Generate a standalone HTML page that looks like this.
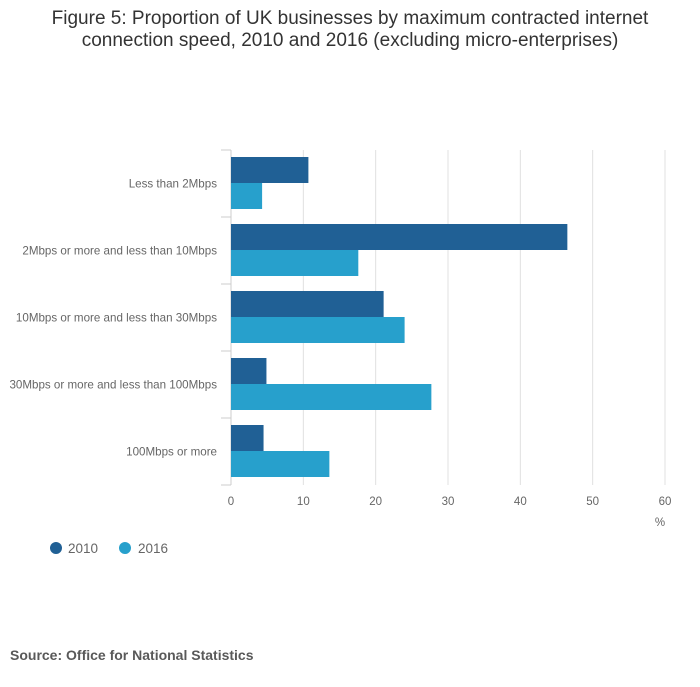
<!DOCTYPE html>
<html><head><meta charset="utf-8"><style>
body{margin:0;background:#fff;font-family:"Liberation Sans",sans-serif;}
svg text{font-family:"Liberation Sans",sans-serif;}
</style></head><body>
<svg width="700" height="682" id="c">
<text x="350" y="24" text-anchor="middle" font-size="19" fill="#333">Figure 5: Proportion of UK businesses by maximum contracted internet</text>
<text x="350" y="46" text-anchor="middle" font-size="19" fill="#333">connection speed, 2010 and 2016 (excluding micro-enterprises)</text>
<text x="10" y="660" font-size="14" font-weight="bold" fill="#595959">Source: Office for National Statistics</text>
<g>
<circle cx="56" cy="548" r="6" fill="#206095"/>
<text x="68" y="553" font-size="13.5" fill="#666">2010</text>
<circle cx="125" cy="548" r="6" fill="#27a0cc"/>
<text x="138" y="553" font-size="13.5" fill="#666">2016</text>
</g>
<text x="660" y="526" text-anchor="middle" font-size="11.5" fill="#666">%</text>
<g id="plot"></g>
</svg>
<script>
const categories=["Less than 2Mbps","2Mbps or more and less than 10Mbps","10Mbps or more and less than 30Mbps","30Mbps or more and less than 100Mbps","100Mbps or more"];
const values2010=[10.7,46.5,21.1,4.9,4.5];
const values2016=[4.3,17.6,24.0,27.7,13.6];
const xTicks=[0,10,20,30,40,50,60];
const NS="http://www.w3.org/2000/svg";
const g=document.getElementById('plot');
const x0=231,x1=665,xMax=60,yTop=150,band=67;
const xs=v=>x0+(x1-x0)*v/xMax;
function mk(t,a){const e=document.createElementNS(NS,t);for(const k in a)e.setAttribute(k,a[k]);g.appendChild(e);return e;}
xTicks.forEach(t=>{
 const l=mk('line',{x1:xs(t),x2:xs(t),y1:yTop,y2:yTop+band*categories.length,stroke:'#e0e0e0'});
 
 
 const tx=mk('text',{x:xs(t),y:505,'text-anchor':'middle','font-size':11.5,fill:'#666'});
 tx.textContent=t;
 
 
});
const ax=mk('line',{x1:x0,x2:x0,y1:yTop,y2:yTop+band*categories.length,stroke:'#ccc'});


for(let i=0;i<=categories.length;i++){
 const tk=mk('line',{x1:x0-10,x2:x0,y1:yTop+band*i,y2:yTop+band*i,stroke:'#ccc'});
 
 
}
categories.forEach((c,i)=>{
 const yb=yTop+band*i;
 const lb=mk('text',{x:217,y:yb+band/2+4,'text-anchor':'end','font-size':11.6,fill:'#666'});
 lb.textContent=c;
 
 
 const b1=mk('rect',{x:x0,y:yb+7,width:xs(values2010[i])-x0,height:26,fill:'#206095'});
 
 
 const b2=mk('rect',{x:x0,y:yb+33,width:xs(values2016[i])-x0,height:26,fill:'#27a0cc'});
 
 
});
</script>
</body></html>
